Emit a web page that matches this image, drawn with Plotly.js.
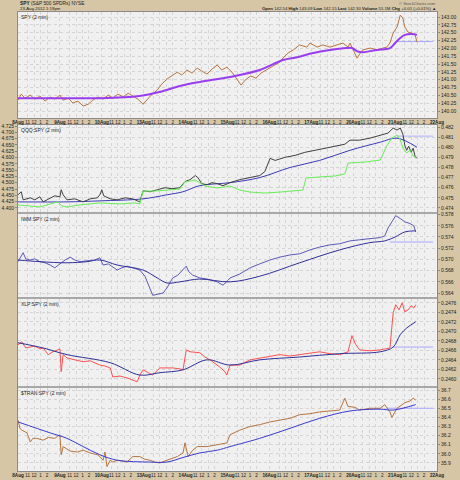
<!DOCTYPE html>
<html><head><meta charset="utf-8">
<script src="https://cdn.plot.ly/plotly-3.0.1.min.js"></script>
<style>html,body{margin:0;padding:0;background:#d6c6a6}</style>
</head><body><div id="chart" style="width:460px;height:480px"></div>
<script>
// ---- time axis (trading hours since 8Aug 9:30) ----
const dayLabels = ['8Aug','9Aug','10Aug','13Aug','14Aug','15Aug','16Aug','17Aug','20Aug','21Aug','22Aug'];
const hourLabels = ['11','12','1','2'];
const hourOffsets = [1.5,2.5,3.5,4.5];

// ---- SPY ----
const spyT = [0,0.5,1.1,1.9,2.6,3.4,4.2,5.0,5.7,6.5,7.0,7.8,8.5,9.3,10.1,10.9,11.6,12.4,13.2,14.0,14.7,15.5,16.3,17.1,17.8,18.6,19.4,20.0,20.8,21.6,22.3,23.1,23.9,24.7,25.4,26.2,27.0,27.8,28.5,29.3,30.1,30.9,31.6,32.4,33.2,34.0,34.6,35.4,36.1,36.9,37.7,38.5,39.2,40.0,40.6,41.1,41.9,42.7,43.7,44.8,45.3,46.4,47.3,48.4,49.5,50.4,51.2,51.5,52.0,52.6,53.1,53.5,54.6,55.7,56.6,57.2,57.7,58.2,58.8,59.3,59.7,60.0,60.5,61.1,61.6,61.9];
const spyV = [140.35,140.54,140.41,140.51,140.38,140.48,140.32,140.45,140.38,140.51,140.35,140.41,140.26,140.32,140.16,140.22,140.35,140.45,140.38,140.51,140.41,140.54,140.45,140.57,140.48,140.38,140.22,140.35,140.54,140.67,140.86,141.02,141.12,141.24,141.15,141.31,141.21,141.37,141.28,141.18,141.34,141.47,141.31,141.40,141.24,140.99,140.83,141.02,141.12,141.05,141.21,141.31,141.40,141.50,141.56,141.69,141.85,141.95,142.11,142.04,142.17,142.04,142.11,142.04,142.11,142.17,142.04,142.17,141.95,141.69,141.85,141.95,142.01,141.95,142.01,142.04,142.17,142.49,142.68,143.06,142.97,142.68,142.52,142.49,142.43,142.20];
const spyMaT = [0,7.6,12.7,18.9,22.0,25.1,28.2,32.9,37.5,41.1,43.3,45.8,48.4,51.0,51.8,52.6,53.5,55.7,57.7,58.5,59.3,60.0,61.1,61.9];
const spyMaV = [140.41,140.41,140.41,140.48,140.61,140.80,140.93,141.09,141.31,141.63,141.72,141.85,141.95,142.01,142.01,141.91,141.88,141.95,142.01,142.17,142.33,142.43,142.46,142.43];
const spyRefT = [58.5,64.4], spyRefV = [142.22,142.22];

// ---- QQQ:SPY ----
const qqqT = [0,0.5,0.8,1.9,2.6,3.4,3.9,4.7,5.7,6.5,6.7,7.0,7.6,8.8,10.1,11.2,12.3,12.7,13.0,13.3,14.3,15.4,16.6,17.8,18.9,19.4,20.5,21.6,22.8,23.9,25.1,25.9,26.7,27.5,27.9,28.5,29.3,30.1,30.9,31.8,32.9,34.4,36.0,37.5,38.3,39.1,39.9,41.4,43.0,44.5,46.1,47.6,49.2,50.7,51.5,53.0,54.6,56.2,57.4,58.2,58.8,59.3,59.7,60.0,60.3,60.6,61.0,61.3,61.6,61.9];
const qqqV = [.4753,.4756,.4748,.4750,.4748,.4751,.4746,.4749,.4752,.4751,.4758,.4753,.4748,.4749,.4746,.4749,.4750,.4753,.4758,.4752,.4749,.4748,.4750,.4749,.4746,.4757,.4756,.4758,.4760,.4759,.4760,.4766,.4768,.4772,.4770,.4764,.4763,.4765,.4764,.4762,.4765,.4768,.4770,.4772,.4776,.4789,.4787,.4790,.4792,.4795,.4797,.4799,.4801,.4803,.4807,.4807,.4809,.4812,.4814,.4819,.4817,.4819,.4813,.4802,.4797,.4801,.4795,.4799,.4791,.4789];
const qqqMaT = [0,7.6,12.7,19.4,23.1,25.6,28.2,32.9,37.5,42.2,46.8,51.5,56.2,58.8,61.9];
const qqqMaV = [.4746,.4746,.4747,.4749,.4753,.4756,.4762,.4765,.4770,.4780,.4787,.4797,.4805,.4809,.4800];
const qqqCmpT = [0,1.9,3.4,5.0,6.2,6.8,7.6,9.6,12.7,15.8,18.1,18.9,19.4,21.2,23.6,25.1,25.9,27.5,29.0,30.9,32.9,34.4,36.0,38.3,40.6,43.0,44.2,44.7,46.8,49.2,50.7,51.2,53.8,56.2,57.2,58.0,58.8,59.3,59.7,60.3,60.8,61.3,61.7];
const qqqCmpV = [4.412,4.408,4.404,4.416,4.424,4.408,4.404,4.412,4.420,4.416,4.420,4.416,4.467,4.467,4.471,4.475,4.503,4.511,4.487,4.479,4.487,4.471,4.463,4.459,4.463,4.467,4.471,4.519,4.523,4.527,4.535,4.578,4.582,4.590,4.646,4.677,4.689,4.670,4.638,4.618,4.630,4.606,4.598];
const qqqRefT = [58.8,64.4], qqqRefV = [.4811,.4811];

// ---- IWM:SPY ----
const iwmT = [0,0.5,0.8,1.2,1.9,2.6,3.4,4.2,5.0,5.7,6.5,7.3,8.1,8.8,9.6,10.4,11.2,11.9,12.7,13.2,14.0,14.7,15.4,16.1,16.9,17.8,18.9,19.7,20.5,20.9,21.7,22.5,23.1,23.6,24.0,24.8,25.6,26.1,26.5,27.1,28.2,29.3,30.9,31.8,32.6,32.9,34.4,36.0,37.5,39.1,40.6,42.2,43.7,45.3,46.8,48.4,49.9,51.5,53.0,54.6,56.2,56.9,57.4,58.0,58.6,59.3,60.0,60.8,61.4,61.7];
const iwmV = [.5696,.5706,.5712,.5701,.5699,.5701,.5696,.5694,.5690,.5685,.5692,.5699,.5704,.5699,.5696,.5697,.5699,.5699,.5703,.5690,.5692,.5687,.5681,.5685,.5688,.5685,.5681,.5670,.5649,.5636,.5638,.5640,.5649,.5660,.5667,.5672,.5681,.5688,.5678,.5672,.5667,.5665,.5660,.5654,.5663,.5667,.5674,.5685,.5692,.5699,.5704,.5708,.5710,.5717,.5722,.5726,.5728,.5733,.5735,.5737,.5739,.5742,.5756,.5767,.5778,.5773,.5767,.5764,.5760,.5749];
const iwmMaT = [0,3.4,7.6,10.7,12.7,15.4,19.4,21.6,23.1,25.1,28.2,32.9,37.5,43.7,49.9,54.6,56.9,58.5,60.0,61.7];
const iwmMaV = [.5699,.5696,.5694,.5696,.5699,.5690,.5681,.5667,.5658,.5660,.5665,.5660,.5670,.5694,.5717,.5730,.5733,.5740,.5749,.5751];
const iwmRefT = [57.7,64.4], iwmRefV = [.5731,.5731];

// ---- XLP:SPY ----
const xlpT = [0,0.6,1.2,1.9,2.6,3.4,3.9,4.7,5.4,6.2,6.5,6.7,7.0,7.6,8.8,10.1,11.2,12.7,13.5,14.3,14.7,15.8,16.9,17.8,18.5,18.9,19.4,20.2,20.9,21.7,22.0,23.1,24.0,25.1,25.6,26.1,26.7,28.2,29.0,29.8,30.6,31.3,32.1,32.4,32.9,34.4,36.0,37.5,39.1,40.6,42.2,43.7,45.3,46.8,48.4,49.9,51.2,51.8,52.4,53.0,54.6,56.2,57.7,58.2,58.6,59.1,59.6,60.0,60.5,61.0,61.4,61.7];
const xlpV = [.24672,.24678,.24665,.24667,.24669,.24663,.24665,.24651,.24657,.24661,.24663,.24615,.24651,.24644,.24640,.24636,.24638,.24629,.24627,.24623,.24604,.24606,.24602,.24598,.24594,.24608,.24619,.24613,.24608,.24619,.24623,.24623,.24623,.24621,.24619,.24661,.24657,.24655,.24646,.24640,.24632,.24625,.24615,.24608,.24629,.24629,.24640,.24644,.24648,.24651,.24648,.24651,.24655,.24657,.24653,.24651,.24657,.24691,.24672,.24661,.24659,.24661,.24665,.24739,.24756,.24745,.24760,.24741,.24745,.24754,.24749,.24756];
const xlpMaT = [0,3.9,7.6,14.3,18.9,22.0,25.6,29.3,32.9,37.5,43.7,49.9,56.2,58.2,59.3,60.3,61.7];
const xlpMaV = [.24676,.24665,.24651,.24634,.24608,.24613,.24619,.24640,.24629,.24640,.24646,.24653,.24657,.24667,.24693,.24707,.24720];
const xlpRefT = [58.2,64.4], xlpRefV = [.24667,.24667];

// ---- $TRAN:SPY ----
const tranT = [0,0.3,0.6,1.4,1.9,2.3,2.9,3.9,4.7,5.7,6.5,6.7,7.0,7.6,8.1,9.2,10.1,11.2,12.3,12.7,13.2,13.5,13.8,14.3,14.7,15.4,16.1,16.9,17.8,18.9,19.7,20.5,21.2,22.0,23.1,23.9,24.7,25.6,25.9,26.4,27.1,27.8,29.3,30.9,32.4,32.9,34.4,36.0,37.5,39.1,40.6,42.2,43.7,45.3,46.8,48.4,49.9,50.7,51.2,52.3,53.0,54.6,56.2,56.9,57.7,58.0,58.8,60.0,60.8,61.3,61.7];
const tranV = [36.37,36.28,36.26,36.23,36.13,36.17,36.17,36.15,36.18,36.17,36.21,35.99,36.08,36.05,36.03,36.02,36.04,36.01,35.99,35.97,35.93,36.02,35.86,35.93,35.91,35.93,35.92,35.91,35.97,35.97,35.94,35.93,35.91,35.90,35.93,35.95,35.97,36.01,36.12,35.97,36.04,36.08,36.08,36.10,36.12,36.21,36.26,36.30,36.32,36.35,36.37,36.39,36.43,36.44,36.46,36.47,36.48,36.61,36.52,36.51,36.48,36.50,36.50,36.54,36.46,36.40,36.50,36.56,36.58,36.61,36.59];
const tranMaT = [0,5.0,7.6,10.1,12.7,15.4,20.5,23.1,25.6,28.2,30.9,32.9,37.5,42.2,46.8,51.5,56.2,58.2,61.7];
const tranMaV = [36.35,36.23,36.17,36.08,35.99,35.93,35.91,35.91,35.96,36.01,36.04,36.08,36.17,36.28,36.39,36.47,36.49,36.48,36.54];
const tranRefT = [57.2,64.4], tranRefV = [36.50,36.50];

// ---- ticks ----
const tickVals = [], tickText = [];
dayLabels.forEach((d,i)=>{
  tickVals.push(i*6.5); tickText.push('<b>'+d+'</b>');
  if (i < dayLabels.length-1) hourOffsets.forEach((o,j)=>{tickVals.push(i*6.5+o); tickText.push(hourLabels[j]);});
});

const FONT = 'Liberation Sans, Arial, sans-serif';
function ln(x,y,xa,ya,color,width,shape){
  return {type:'scatter',mode:'lines',x:x,y:y,xaxis:xa,yaxis:ya,
    line:{color:color,width:width,shape:shape||'linear'},hoverinfo:'skip',showlegend:false};
}
const traces = [
  ln(spyRefT,spyRefV,'x2','y','#a8a8ff',1),
  ln(spyT,spyV,'x2','y','#b8743e',1),
  ln(spyMaT,spyMaV,'x2','y','#9a3cf0',2,'spline'),
  ln(qqqRefT,qqqRefV,'x','y2','#b0b0ff',1),
  ln(qqqCmpT,qqqCmpV,'x','y6','#66ee55',1),
  ln(qqqMaT,qqqMaV,'x','y2','#3a3ab8',1,'spline'),
  ln(qqqT,qqqV,'x','y2','#404040',1),
  ln(iwmRefT,iwmRefV,'x','y3','#a8a8ff',1),
  ln(iwmT,iwmV,'x','y3','#5a5ab8',1),
  ln(iwmMaT,iwmMaV,'x','y3','#30309a',1,'spline'),
  ln(xlpRefT,xlpRefV,'x','y4','#a8a8ff',1),
  ln(xlpT,xlpV,'x','y4','#ff5050',1),
  ln(xlpMaT,xlpMaV,'x','y4','#30309a',1,'spline'),
  ln(tranRefT,tranRefV,'x','y5','#a8a8ff',1),
  ln(tranT,tranV,'x','y5','#b8743e',1),
  ln(tranMaT,tranMaV,'x','y5','#3a3ad0',1,'spline'),
];

const xBase = {range:[0,65],tickvals:tickVals,ticktext:tickText,tickangle:0,
  tickfont:{size:4.6,color:'#222',family:FONT},showgrid:true,gridcolor:'#d4d4d4',griddash:'dot',
  showline:true,linecolor:'#8a8a8a',mirror:'all',ticks:'',ticklabelstandoff:-1,zeroline:false};
function yAx(dom,rng,dtick,fmt,extra){
  return Object.assign({domain:dom,range:rng,dtick:dtick,tickformat:fmt,side:'right',
    tickfont:{size:5,color:'#222',family:FONT},showgrid:true,gridcolor:'#d4d4d4',griddash:'dot',
    showline:true,linecolor:'#8a8a8a',mirror:true,ticks:'outside',ticklen:2,tickcolor:'#888',zeroline:false},extra||{});
}
const D1=[0.7691,1],D2=[0.5643,0.7538],D3=[0.3791,0.5599],D4=[0.1852,0.3747],D5=[0,0.1808];
const layout = {
  width:460,height:480,margin:{l:18,r:23,t:12,b:9},
  paper_bgcolor:'#d6c6a6',plot_bgcolor:'#f0f0f0',
  font:{family:FONT,size:5,color:'#222'},
  xaxis:Object.assign({},xBase,{anchor:'y5'}),
  xaxis2:Object.assign({},xBase,{anchor:'y'}),
  yaxis:yAx(D1,[139.78,143.16],0.25,'.2f',{anchor:'x2'}),
  yaxis2:yAx(D2,[0.4736,0.4822],0.001,'.3f',{anchor:'x'}),
  yaxis3:yAx(D3,[0.5633,0.5781],0.002,'.3f',{anchor:'x'}),
  yaxis4:yAx(D4,[0.24585,0.24768],0.0002,'.4f',{anchor:'x'}),
  yaxis5:yAx(D5,[35.812,36.722],0.1,'.1f',{anchor:'x'}),
  yaxis6:yAx(D2,[4.384,4.729],0.025,'.3f',{anchor:'x',overlaying:'y2',side:'left',showgrid:false,mirror:false}),
  shapes:[
    {type:'rect',xref:'paper',yref:'paper',x0:0,x1:1,y0:0.5599,y1:0.5643,fillcolor:'#a8a8a8',line:{width:0}},
    {type:'rect',xref:'paper',yref:'paper',x0:0,x1:1,y0:0.3747,y1:0.3791,fillcolor:'#a8a8a8',line:{width:0}},
    {type:'rect',xref:'paper',yref:'paper',x0:0,x1:1,y0:0.1808,y1:0.1852,fillcolor:'#a8a8a8',line:{width:0}}
  ],
  annotations:[
    {xref:'paper',yref:'paper',x:0.003,y:1.0,xanchor:'left',yanchor:'top',showarrow:false,text:'SPY (2 min)',font:{size:5}},
    {xref:'paper',yref:'paper',x:0.003,y:D2[1],xanchor:'left',yanchor:'top',showarrow:false,text:'QQQ:SPY (2 min)',font:{size:5}},
    {xref:'paper',yref:'paper',x:0.003,y:D3[1],xanchor:'left',yanchor:'top',showarrow:false,text:'IWM:SPY (2 min)',font:{size:5}},
    {xref:'paper',yref:'paper',x:0.003,y:D4[1],xanchor:'left',yanchor:'top',showarrow:false,text:'XLP:SPY (2 min)',font:{size:5}},
    {xref:'paper',yref:'paper',x:0.003,y:D5[1],xanchor:'left',yanchor:'top',showarrow:false,text:'$TRAN:SPY (2 min)',font:{size:5}},
    {xref:'paper',yref:'paper',x:0.003,y:1.0261,xanchor:'left',yanchor:'top',showarrow:false,text:'<b>SPY</b> (S&P 500 SPDRs) NYSE',font:{size:4.8},borderpad:0},
    {xref:'paper',yref:'paper',x:0.003,y:1.0,xanchor:'left',yanchor:'bottom',showarrow:false,text:'23-Aug-2012 1:18pm',font:{size:4.3},borderpad:0},
    {xref:'paper',yref:'paper',x:1.0,y:1.0,xanchor:'right',yanchor:'bottom',showarrow:false,text:'<b>Open</b> 142.54 <b>High</b> 143.09 <b>Low</b> 142.15 <b>Last</b> 142.30 <b>Volume</b> 55.1M <b>Chg</b> +0.01 (+0.01%) ▲',font:{size:4.3},borderpad:0},
    {xref:'paper',yref:'paper',x:1.0,y:1.0261,xanchor:'right',yanchor:'top',showarrow:false,text:'© StockCharts.com',font:{size:4.2,color:'#555'},borderpad:0}
  ]
};
Plotly.newPlot('chart',traces,layout,{staticPlot:true,displayModeBar:false});
</script></body></html>
